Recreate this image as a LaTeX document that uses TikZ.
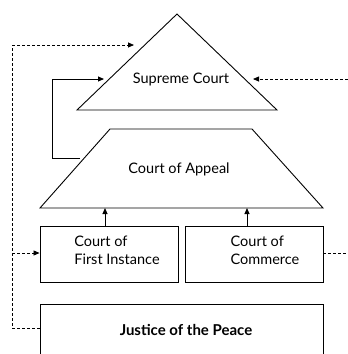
\documentclass[tikz,border=0pt]{standalone}
\usepackage{fontspec}
\setmainfont{Lato}
\usetikzlibrary{arrows.meta}
\begin{document}
\begin{tikzpicture}[x=1pt,y=-1pt,
  shape line/.style={line width=0.9pt, line join=miter},
  court box/.style={draw, line width=0.9pt, rectangle, inner sep=0pt},
  label text/.style={font=\fontsize{14.5}{18}\selectfont, align=left, inner sep=0pt},
  tip/.style={-{Triangle[length=6pt,width=5pt]}},
  dashline/.style={line width=0.8pt, dash pattern=on 3pt off 2pt}]
\useasboundingbox (0,0) rectangle (348,354);
% Supreme Court triangle
\coordinate (sA) at (177,14);
\coordinate (sL) at (77,110);
\coordinate (sR) at (277,110);
\draw[shape line] (sA) -- (sL) -- (sR) -- cycle;
\node[label text] (sc) at (181,79) {Supreme Court};
% Court of Appeal trapezoid
\coordinate (tTL) at (110,129);
\coordinate (tTR) at (252,129);
\coordinate (tBR) at (323,208);
\coordinate (tBL) at (40,208);
\draw[shape line] (tTL) -- (tTR) -- (tBR) -- (tBL) -- cycle;
\node[label text] (ca) at (179,169) {Court of Appeal};
% boxes
\node[court box, minimum width=138pt, minimum height=56pt] (fi) at (109,254) {};
\node[label text] (fit) at (117,250) {Court of\\First Instance};
\node[court box, minimum width=138pt, minimum height=56pt] (cc) at (254,254) {};
\node[label text] (cct) at (265,250) {Court of\\Commerce};
\node[court box, minimum width=283pt, minimum height=52pt, font=\fontsize{15}{18}\selectfont\bfseries] (jp) at (181.5,330) {\hspace*{9pt}Justice of the Peace};
% arrows from boxes to appeal
\coordinate (a1) at (105,208);
\coordinate (a2) at (247,208);
\draw[line width=0.9pt, tip] (fi.north -| a1) -- (a1);
\draw[line width=0.9pt, tip] (cc.north -| a2) -- (a2);
% solid loop from appeal to supreme
\coordinate (l1) at (80,158);
\coordinate (l2) at (52,158);
\coordinate (l3) at (52,79);
\coordinate (l4) at (104,79);
\draw[line width=0.9pt, tip] (l1) -- (l2) -- (l3) -- (l4);
% dashed from justice of the peace
\coordinate (d0) at (12,328);
\coordinate (d1) at (12,45);
\coordinate (d2) at (134,45);
\coordinate (d3) at (12,253);
\draw[dashline] (jp.west |- d0) -- (d0) -- (d1);
\draw[dashline, tip] (d1) -- (d2);
\draw[dashline, tip] (d3) -- (fi.west |- d3);
% dashed from right
\coordinate (r1) at (348,79);
\coordinate (r2) at (253,79);
\draw[dashline, tip] (r1) -- (r2);
\coordinate (r3) at (348,253);
\draw[dashline] (cc.east |- r3) -- (r3);
\end{tikzpicture}
\end{document}
